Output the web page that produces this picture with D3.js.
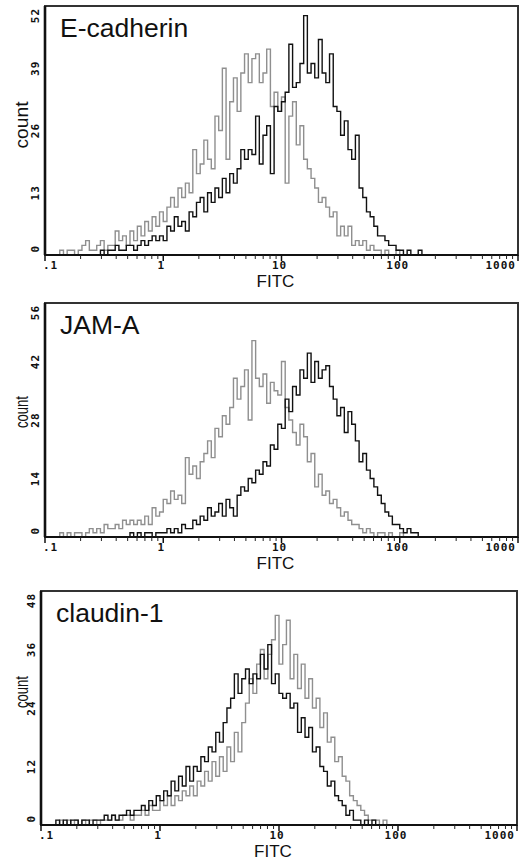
<!DOCTYPE html>
<html><head><meta charset="utf-8">
<script src="https://cdn.jsdelivr.net/npm/d3@7"></script>
<style>body{margin:0;background:#fff} svg{display:block}</style>
</head><body><svg id="chart" width="520" height="861"></svg>
<script>
// ---------- data ----------
const binsPerDecade = 32;          // histogram channels per log decade
const fitcMin = 0.1, fitcMax = 1000;
const xTickValues = [0.1, 1, 10, 100, 1000];
const xTickLabels = [".1", "1", "10", "100", "1000"];
const panelTitles = ["E-cadherin", "JAM-A", "claudin-1"];
const yMaxes = [52, 56, 48];
const yTicksEcad = [0, 13, 26, 39, 52];
const yTicksJam = [0, 14, 28, 42, 56];
const yTicksCld = [0, 12, 24, 36, 48];
const xAxisTitle = "FITC";
const yAxisTitle = "count";

// counts per channel; *Start = index of first channel
const ecadGrayStart = 4;
const ecadGray = [1,0,1,1,0,1,2,3,1,1, 2,3,1,2,2,5,3,4,2,5, 3,6,4,7,5,8,6,9,7,10,
  12,10,14,12,15,13,22,17,19,24, 20,18,29,26,39,20,32,37,30,38, 42,36,41,42,36,38,43,31,34,30,
  33,15,29,32,23,27,20,18,16,14, 11,12,10,8,9,4,6,4,6,2, 3,2,3,1,2,1,1,0,1,0, 0,1];
const ecadBlackStart = 15;
const ecadBlack = [1,0,1,1,2,1,1,2,2,1, 2,3,2,3,4,3,4,3,6,5, 8,6,7,5,9,8,11,12,9,13,
  11,14,12,16,13,17,15,18,22,20, 22,21,29,19,25,27,17,31,30,32, 34,44,35,36,40,50,38,40,37,45,
  38,36,42,31,30,25,28,22,20,25, 14,12,9,8,6,4,4,3,2,2, 1,1,0,1,0,0,1];

const jamGrayStart = 4;
const jamGray = [1,0,1,0,1,1,0,1,2,1, 2,1,3,2,2,3,2,4,3,4, 3,4,3,5,3,7,5,6,9,8,
  11,9,10,8,19,15,17,14,18,20, 23,19,26,24,29,27,31,38,33,36, 40,28,47,38,36,39,32,37,35,34,
  42,31,28,25,22,27,24,18,20,12, 15,10,11,8,9,7,5,6,4,3, 3,2,1,2,1,0,1,1,0,1, 0,0,1];
const jamBlackStart = 23;
const jamBlack = [1,0,1,0,1,1,0,1,1,1, 2,1,2,1,3,2,2,4,3,5, 4,7,5,6,8,5,9,7,5,10,
  12,11,14,13,16,15,18,17,22,21, 27,26,33,30,36,34,40,38,44,37, 42,38,40,41,36,33,29,31,25,30,
  27,23,18,20,16,14,12,10,8,6, 5,3,3,2,1,2,1,1,0];

const cldGrayStart = 4;
const cldGray = [0,1,0,1,0,1,0,1,0,1, 1,0,1,1,1,2,1,1,2,2, 1,2,2,3,2,4,3,3,5,4,
  6,4,6,5,7,6,8,6,9,8, 11,9,13,10,14,11,16,13,19,15, 21,25,30,27,33,36,30,35,38,43,
  33,37,42,30,35,28,33,26,30,24, 26,20,23,17,18,13,14,10,9,6, 5,4,3,2,1,1,1,0,1];
const cldBlackStart = 4;
const cldBlack = [1,0,1,0,1,1,0,1,1,0, 1,1,1,2,1,2,1,2,2,3, 2,3,3,4,3,5,4,6,5,7,
  6,9,7,10,8,12,9,12,11,14, 13,16,15,19,17,21,24,26,31,27, 30,32,29,31,30,35,32,37,29,31,
  27,26,27,24,25,19,22,18,20,15, 16,12,11,8,9,6,5,4,2,3, 1,1,0,1,0,1];

// ---------- layout ----------
const panels = [
  {title: panelTitles[0], yMax: yMaxes[0], yTicks: yTicksEcad, gray: [ecadGrayStart, ecadGray], black: [ecadBlackStart, ecadBlack],
   left: 45, right: 518, top: 6, bottom: 255, countY: 125, countLen: 47},
  {title: panelTitles[1], yMax: yMaxes[1], yTicks: yTicksJam, gray: [jamGrayStart, jamGray], black: [jamBlackStart, jamBlack],
   left: 45, right: 518, top: 303, bottom: 537, countY: 412, countLen: 32},
  {title: panelTitles[2], yMax: yMaxes[2], yTicks: yTicksCld, gray: [cldGrayStart, cldGray], black: [cldBlackStart, cldBlack],
   left: 41, right: 517, top: 591, bottom: 825, countY: 692, countLen: 32}
];

const svg = d3.select("#chart");
const monoFont = "'DejaVu Sans Mono', monospace";
const sansFont = "'Liberation Sans', Arial, sans-serif";

function edgeValue(i) { return fitcMin * Math.pow(10, i / binsPerDecade); }

panels.forEach((p, pi) => {
  const x = d3.scaleLog().domain([fitcMin, fitcMax]).range([p.left, p.right]);
  const y = d3.scaleLinear().domain([0, p.yMax]).range([p.bottom, p.top]);
  const g = svg.append("g");

  const clipId = "clip" + pi;
  svg.append("clipPath").attr("id", clipId).append("rect")
    .attr("x", p.left).attr("y", p.top).attr("width", p.right - p.left).attr("height", p.bottom - p.top);

  const line = d3.line().x(d => x(d[0])).y(d => y(d[1])).curve(d3.curveStepAfter);
  function pts(start, arr) {
    const out = [[edgeValue(start), 0]];
    arr.forEach((c, k) => out.push([edgeValue(start + k), c]));
    out.push([edgeValue(start + arr.length), 0]);
    return out;
  }
  const plot = g.append("g").attr("clip-path", `url(#${clipId})`);
  plot.append("path").datum(pts(p.gray[0], p.gray[1])).attr("d", line)
    .attr("fill", "none").attr("stroke", "#8f8f8f").attr("stroke-width", 1.4);
  plot.append("path").datum(pts(p.black[0], p.black[1])).attr("d", line)
    .attr("fill", "none").attr("stroke", "#111").attr("stroke-width", 1.4);

  // frame
  g.append("rect").attr("x", p.left).attr("y", p.top).attr("width", p.right - p.left).attr("height", p.bottom - p.top)
    .attr("fill", "none").attr("stroke", "#333").attr("stroke-width", 2);
  g.append("line").attr("x1", p.left).attr("x2", p.left).attr("y1", p.top).attr("y2", p.bottom)
    .attr("stroke", "#111").attr("stroke-width", 2.6);
  g.append("line").attr("x1", p.left).attr("x2", p.right).attr("y1", p.bottom).attr("y2", p.bottom)
    .attr("stroke", "#111").attr("stroke-width", 2.2);

  // x ticks (major + minor)
  const minor = [];
  for (let k = -1; k < 3; k++) for (let m = 2; m <= 9; m++) minor.push(m * Math.pow(10, k));
  g.selectAll(null).data(minor).enter().append("line")
    .attr("x1", d => x(d)).attr("x2", d => x(d)).attr("y1", p.bottom).attr("y2", p.bottom + 4)
    .attr("stroke", "#222").attr("stroke-width", 1);
  g.selectAll(null).data(xTickValues).enter().append("line")
    .attr("x1", d => x(d)).attr("x2", d => x(d)).attr("y1", p.bottom).attr("y2", p.bottom + 6)
    .attr("stroke", "#111").attr("stroke-width", 1.5);
  g.selectAll(null).data(xTickValues).enter().append("text")
    .attr("x", (d, i) => x(d) - 2)
    .attr("y", p.bottom + 13.5)
    .attr("text-anchor", (d, i) => i === 0 ? "start" : (i === xTickValues.length - 1 ? "end" : "middle"))
    .attr("font-family", monoFont).attr("font-weight", "bold").attr("font-size", 11)
    .attr("letter-spacing", 1).attr("fill", "#111")
    .text((d, i) => xTickLabels[i]);

  // y tick labels (rotated)
  g.selectAll(null).data(p.yTicks).enter().append("text")
    .attr("transform", d => {
      const half = String(d).length * 4.3;
      let cy = y(d);
      cy = Math.max(p.top + half + 1, Math.min(p.bottom - half - 2, cy));
      return `translate(${p.left - 10},${cy}) rotate(-90)`;
    })
    .attr("text-anchor", "middle").attr("dominant-baseline", "central")
    .attr("font-family", monoFont).attr("font-weight", "bold").attr("font-size", 11)
    .attr("letter-spacing", 1).attr("fill", "#111")
    .text(d => d);

  // axis titles
  g.append("text").attr("x", (p.left + p.right) / 2 - 6).attr("y", p.bottom + 32)
    .attr("text-anchor", "middle").attr("font-family", sansFont).attr("font-size", 17).attr("fill", "#111")
    .text(xAxisTitle);
  g.append("text").attr("transform", `translate(28,${p.countY}) rotate(-90)`)
    .attr("text-anchor", "middle").attr("font-family", sansFont).attr("font-size", 19).attr("fill", "#111")
    .attr("textLength", p.countLen).attr("lengthAdjust", "spacingAndGlyphs")
    .text(yAxisTitle);

  // panel title
  g.append("text").attr("x", p.left + 15).attr("y", p.top + 31)
    .attr("font-family", sansFont).attr("font-size", 26.5).attr("fill", "#111")
    .text(p.title);
});
</script></body></html>
